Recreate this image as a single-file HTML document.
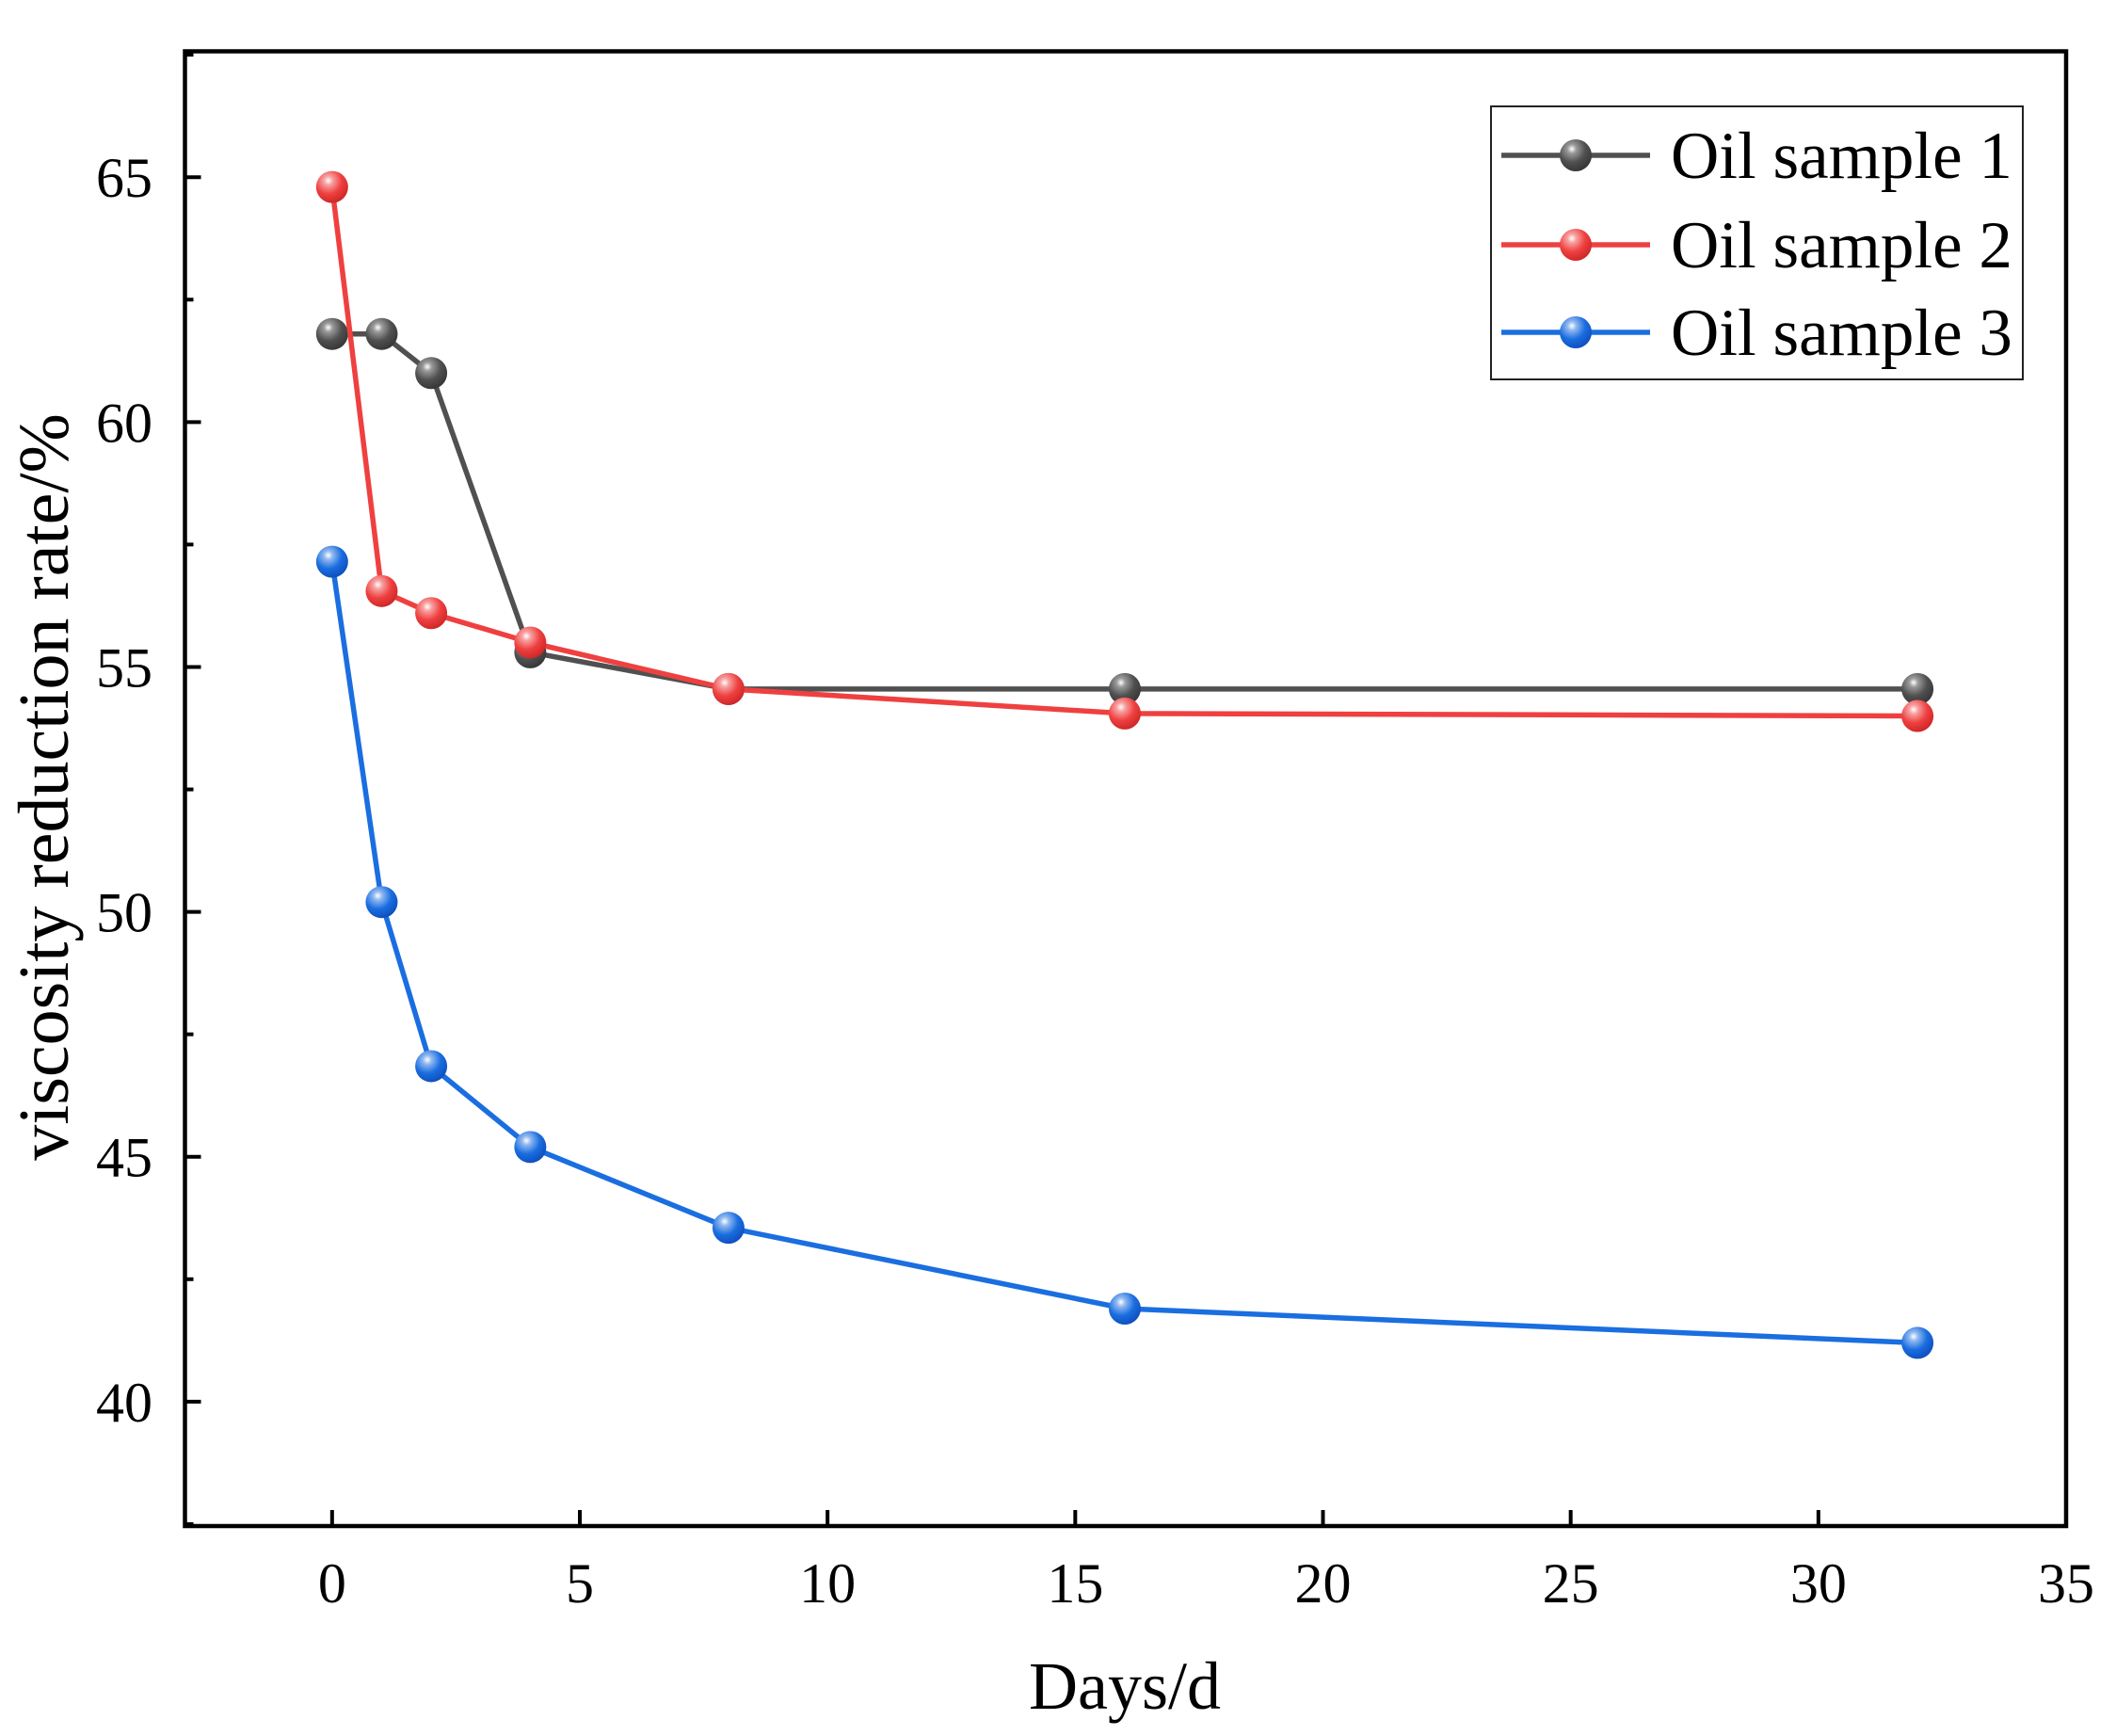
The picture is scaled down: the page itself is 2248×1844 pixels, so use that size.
<!DOCTYPE html>
<html><head><meta charset="utf-8"><style>
html,body{margin:0;padding:0;background:#fff;}
svg{display:block;font-family:"Liberation Serif",serif;}
</style></head><body>
<svg id="chart" width="2248" height="1844" viewBox="0 0 2248 1844" xmlns="http://www.w3.org/2000/svg">
<defs>
<radialGradient id="g0" cx="0.38" cy="0.3" r="0.7"><stop offset="0" stop-color="#fff"/><stop offset="0.2" stop-color="#9a9a9a"/><stop offset="0.6" stop-color="#505050"/><stop offset="1" stop-color="#383838"/></radialGradient>
<radialGradient id="g1" cx="0.38" cy="0.3" r="0.7"><stop offset="0" stop-color="#fff"/><stop offset="0.2" stop-color="#f8a0a0"/><stop offset="0.6" stop-color="#ef4040"/><stop offset="1" stop-color="#d02828"/></radialGradient>
<radialGradient id="g2" cx="0.38" cy="0.3" r="0.7"><stop offset="0" stop-color="#fff"/><stop offset="0.2" stop-color="#90b8f0"/><stop offset="0.6" stop-color="#1a6ee0"/><stop offset="1" stop-color="#1050c0"/></radialGradient>
</defs>
<g id="plot"></g>
</svg>
<script>
const days = [0, 1, 2, 4, 8, 16, 32];
const sample1 = [61.8, 61.8, 61.0, 55.3, 54.55, 54.55, 54.55];
const sample2 = [64.8, 56.55, 56.1, 55.5, 54.55, 54.05, 54.0];
const sample3 = [57.15, 50.2, 46.85, 45.2, 43.55, 41.9, 41.2];
const seriesNames = ["Oil sample 1", "Oil sample 2", "Oil sample 3"];
const xTicks = [0, 5, 10, 15, 20, 25, 30, 35];
const yTicks = [40, 45, 50, 55, 60, 65];

const L=196.5,R=2195,T=54.5,B=1621;
const xMin=-2.97,xMax=35,yMin=37.46,yMax=67.57;
const sx=v=>L+(v-xMin)/(xMax-xMin)*(R-L);
const sy=v=>B-(v-yMin)/(yMax-yMin)*(B-T);
const NS="http://www.w3.org/2000/svg";
const g=document.getElementById('plot');
function mk(tag,attrs,parent){const e=document.createElementNS(NS,tag);for(const k in attrs)e.setAttribute(k,attrs[k]);(parent||g).appendChild(e);return e;}

let fr=mk('rect',{x:L,y:T,width:R-L,height:B-T,fill:'none',stroke:'#000','stroke-width':4.5});



xTicks.forEach(v=>{
  const x=sx(v);
  let t=mk('line',{x1:x,y1:B,x2:x,y2:B-17,stroke:'#000','stroke-width':4});
  
  
  let l=mk('text',{x:x,y:1702,'text-anchor':'middle','font-size':60});
  l.textContent=v;
  
  
});
yTicks.forEach(v=>{
  const y=sy(v);
  let t=mk('line',{x1:L,y1:y,x2:L+17,y2:y,stroke:'#000','stroke-width':4});
  
  
  [v-2.5,v+2.5].forEach(mv=>{ if(mv>yMin&&mv<yMax&&(mv===v-2.5||v===65)){
    let m=mk('line',{x1:L,y1:sy(mv),x2:L+9,y2:sy(mv),stroke:'#000','stroke-width':4});
    
    }});
  let l=mk('text',{x:162,y:y+21,'text-anchor':'end','font-size':60});
  l.textContent=v;
  
  
});
let xt=mk('text',{x:1195,y:1815,'text-anchor':'middle','font-size':72});
xt.textContent='Days/d';


let yt=mk('text',{x:0,y:0,'text-anchor':'middle','font-size':76,transform:'translate(72,836) rotate(-90)'});
yt.textContent='viscosity reduction rate/%';



const colors=['#505050','#ef4040','#1a6ee0'];
const all=[sample1,sample2,sample3];
all.forEach((vals,i)=>{
  const sg=mk('g',{});
  
  
  const pts=days.map((d,j)=>sx(d)+','+sy(vals[j])).join(' ');
  let pl=mk('polyline',{points:pts,fill:'none',stroke:colors[i],'stroke-width':5.5},sg);
  
  
  days.forEach((d,j)=>{
    let c=mk('circle',{cx:sx(d),cy:sy(vals[j]),r:17,fill:'url(#g'+i+')'},sg);
    
    
  });
});

const lg=mk('g',{});


let lb=mk('rect',{x:1584,y:113,width:565,height:290,fill:'#fff',stroke:'#222','stroke-width':2},lg);


[165,260,353].forEach((y,i)=>{
  const e=mk('g',{},lg);
  
  
  mk('line',{x1:1595,y1:y,x2:1753,y2:y,stroke:colors[i],'stroke-width':5.5},e);
  mk('circle',{cx:1674,cy:y,r:17,fill:'url(#g'+i+')'},e);
  let t=mk('text',{x:1775,y:y+24,'font-size':71},e);
  t.textContent=seriesNames[i];
  
  
});
</script>
</body></html>
